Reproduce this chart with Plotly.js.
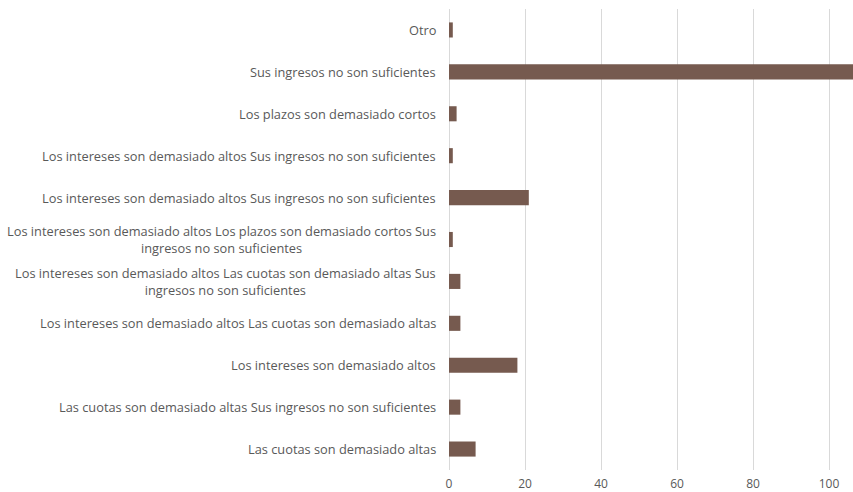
<!DOCTYPE html>
<html>
<head>
<meta charset="utf-8">
<script src="https://cdn.plot.ly/plotly-3.0.1.min.js"></script>
<style>html,body{margin:0;padding:0;background:#fff;}#chart{width:853px;height:492px;}</style>
</head>
<body>
<div id="chart"></div>
<script>
// Categories listed top to bottom as in the chart
const categories = [
  "Otro",
  "Sus ingresos no son suficientes",
  "Los plazos son demasiado cortos",
  "Los intereses son demasiado altos Sus ingresos no son suficientes",
  "Los intereses son demasiado altos Sus ingresos no son suficientes",
  "Los intereses son demasiado altos Los plazos son demasiado cortos Sus<br>ingresos no son suficientes",
  "Los intereses son demasiado altos Las cuotas son demasiado altas Sus<br>ingresos no son suficientes",
  "Los intereses son demasiado altos Las cuotas son demasiado altas",
  "Los intereses son demasiado altos",
  "Las cuotas son demasiado altas Sus ingresos no son suficientes",
  "Las cuotas son demasiado altas"
];
const values = [1, 107, 2, 1, 21, 1, 3, 3, 18, 3, 7];
const xTicks = [0, 20, 40, 60, 80, 100];

const positions = categories.map((_, i) => i);

const trace = {
  type: 'bar',
  orientation: 'h',
  x: values,
  y: positions,
  marker: {color: '#765a4f', line: {width: 0}},
  hoverinfo: 'x'
};

const annotations = categories.map((c, i) => ({
  xref: 'paper', yref: 'y', x: 0, y: i,
  xanchor: 'right', yanchor: 'middle', xshift: -11,
  text: c, showarrow: false, align: 'center',
  font: {family: 'Open Sans, sans-serif', size: 12.8, color: '#595959'}
}));

const layout = {
  width: 853, height: 492,
  margin: {l: 449, r: 0, t: 9, b: 22},
  paper_bgcolor: '#ffffff', plot_bgcolor: '#ffffff',
  showlegend: false,
  bargap: 0.64,
  xaxis: {
    range: [0, 106.3],
    tickvals: xTicks,
    ticktext: xTicks.map(String),
    showgrid: true, gridcolor: '#d9d9d9', gridwidth: 1,
    zeroline: true, zerolinecolor: '#d9d9d9', zerolinewidth: 1,
    showline: false, ticks: '',
    ticklabelstandoff: 5,
    tickfont: {family: 'Open Sans, sans-serif', size: 12, color: '#595959'},
    fixedrange: true
  },
  yaxis: {
    range: [categories.length - 0.5, -0.5],
    showticklabels: false, showgrid: false, zeroline: false, ticks: '',
    fixedrange: true
  },
  annotations: annotations
};

Plotly.newPlot('chart', [trace], layout, {displayModeBar: false, staticPlot: true});
</script>
</body>
</html>
